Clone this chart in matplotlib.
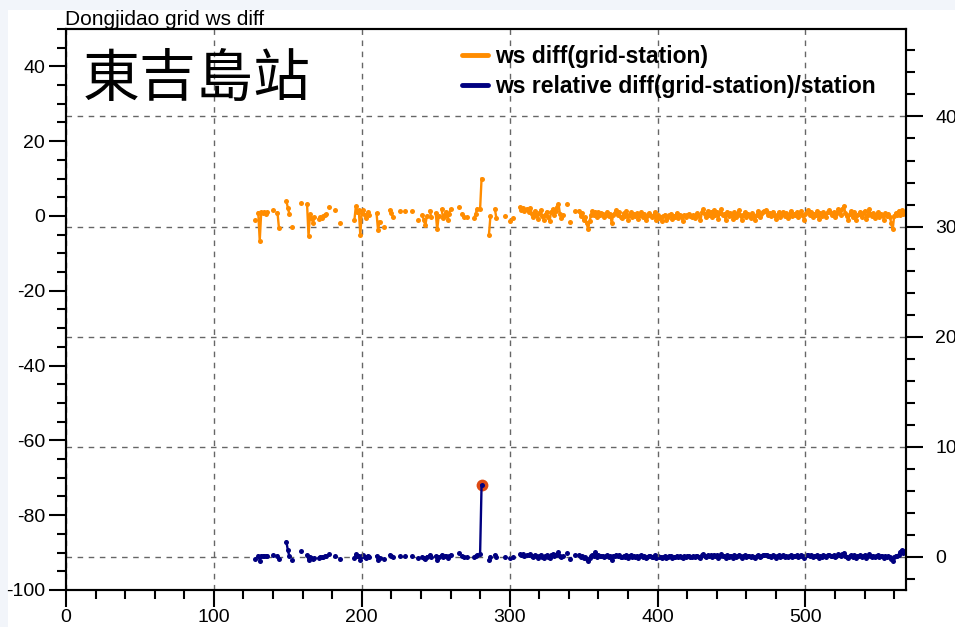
import numpy as np
import matplotlib
matplotlib.use('Agg')
import matplotlib.pyplot as plt
from matplotlib.lines import Line2D
from matplotlib.patches import Rectangle
from matplotlib.ticker import MultipleLocator

plt.rcParams['font.family'] = ['Liberation Sans', 'DejaVu Sans']
plt.rcParams['axes.unicode_minus'] = False

# hour index of the first record
start_hour = 128

# wind speed difference grid - station (m/s), None = missing hour
ws_diff = [
    -1.1, None, 0.9, -6.6, 1.0, 0.8, 1.1, 0.6, 1.0, None,          # 128
    None, None, 1.6, None, None, 0.9, -3.2, None, None, None,      # 138
    None, 4.0, 2.2, 0.6, None, -3.0, None, None, None, None,       # 148
    None, 3.4, None, None, None, 3.2, -5.4, 0.5, -0.6, -1.8,       # 158
    -0.4, None, None, -0.8, -0.3, -0.6, 0.0, 0.3, 0.5, None,       # 168
    2.4, None, None, None, 1.6, None, None, -1.8, None, None,      # 178
    None, None, None, None, None, None, None, -1.1, 2.6, 1.2,      # 188
    1.5, -5.0, 0.8, 1.6, 0.2, -0.5, 1.0, 0.4, None, None,          # 198
    None, None, 0.7, -3.8, -1.5, None, None, -3.0, None, None,     # 208
    None, 1.6, 0.8, -0.2, None, None, None, None, 1.3, None,       # 218
    None, 1.3, None, None, None, None, 1.3, None, None, None,      # 228
    -1.0, None, None, 0.3, -1.2, -2.4, 0.0, None, 1.4, -0.4,       # 238
    None, None, 0.8, -3.6, 0.0, None, 1.8, -0.6, 0.4, 1.2,         # 248
    -1.0, 0.6, 1.8, None, None, None, None, None, 2.5, None,       # 258
    0.6, -0.2, None, -0.2, None, None, None, None, -0.6, 0.6,      # 268
    1.9, None, 1.8, 10.0, None, None, None, None, -5.0, 0.0,       # 278
    None, None, 1.9, -0.6, None, None, None, None, None, 0.0,      # 288
    None, None, -1.4, None, -0.5, None, None, None, None, 2.4,     # 298
    1.7, 2.2, 1.3, None, 2.0,                                      # 308
    1.0, 2.2, 0.6, -0.2, 1.4, 0.2, -0.8, 0.8, 1.6, 0.0,            # 313
    -1.0, 0.4, 1.2, -0.4, -1.4, 1.0, 1.8, 0.2, 1.4, 2.4,           # 323
    3.3, 0.6, -0.6, 0.2, None, None, 3.2, None, -1.5, None,        # 333
    None, 1.4, None, None,                                         # 343
    1.4, 0.0, 0.8, -1.2, -0.2, -1.8, -3.6, -1.4, 0.2, 1.4,         # 347
    0.4, 1.2, -0.2, 1.0, 0.2, 0.8, 0.6, -0.2, 0.4, 1.2,            # 357
    0.0, 0.6, -2.0, 0.4, 0.8, 1.6, 0.2, 1.0, -0.2, -0.6,           # 367
    0.8, 0.0, 1.4, -1.0, 0.4, 1.0, -0.4, 0.6, 0.0, 0.8,            # 377
    -0.8, 0.2, 1.2, -0.2, 0.6, -1.0, 0.0, 0.8, 0.4, -0.4,          # 387
    0.0, 1.0, -1.2, 0.2, -0.6, -0.2, -1.4, 0.0, 0.4, -1.0,         # 397
    -0.2, 0.2, 0.6, -0.8, 0.0, -0.2, 0.8, -0.6, 0.4, 0.0,          # 407
    -1.4, 0.2, -0.2, 0.4, 0.6, 0.0, -0.4, 0.2, -0.6, 0.4,          # 417
    0.8, 0.0, -1.2, 1.0, 1.8, 0.6, -0.2, 1.4, 0.2, 1.2,            # 427
    -0.4, 1.6, 0.4, 1.0, -0.8, 0.8, 1.8, 0.2, 0.6, -1.0,           # 437
    1.2, 0.0, 0.8, 0.4, -0.8, 1.0, -0.2, 0.6, 1.6, 0.2,            # 447
    -1.0, 0.4, 1.0, -0.2, 0.6, 0.2, -0.6, 0.8, 0.0, -1.2,          # 457
    0.4, 1.4, -0.2, 0.6, 1.2, 1.4, 1.6, 1.0, 0.2, 0.8,             # 467
    0.0, 1.2, 0.4, -0.8, 0.2, 1.0, -0.2, 0.6, 1.2, 0.0,            # 477
    0.8, -0.6, 0.4, 1.4, 0.0, 0.6, 0.2, 1.0, -0.2, 0.8,            # 487
    1.4, 0.2, -1.0, 0.6, 1.0, 1.6, 0.4, 1.2, -0.2, 0.6,            # 497
    0.2, 1.4, -0.8, 0.8, 0.0, 1.0, 0.6, -0.2, 1.2, 1.6,            # 507
    0.8, 0.4, 1.0, -0.4, 0.6, 1.8, 1.2, 0.4, 2.0, 2.7,             # 517
    0.8, 0.0, -1.0, 0.6, 1.4, -0.2, 1.0, -1.2, 0.2, 0.6,           # 527
    1.2, -0.2, 0.8, 1.4, -0.8, 0.4, 1.8, 0.6, 0.0, 0.8,            # 537
    -0.6, 0.4, 1.0, -0.4, 0.6, 0.2, -1.0, 0.8, 0.0, 0.6,           # 547
    -0.2, -1.8, -3.6, 0.0, 0.8, 0.2, 1.4, 0.4, 1.6, 0.6,           # 557
    1.2,                                                           # 567
]

# relative difference (grid - station) / station
ws_rel = [
    -0.2, None, 0.1, -0.35, 0.1, 0.05, 0.1, 0.05, 0.1, None,       # 128
    None, None, 0.15, None, None, 0.1, -0.2, None, None, None,     # 138
    None, 1.35, 0.6, 0.05, None, -0.3, None, None, None, None,     # 148
    None, 0.55, None, None, None, 0.15, -0.3, 0.0, -0.1, -0.2,     # 158
    -0.1, None, None, -0.1, 0.0, -0.05, 0.0, 0.05, 0.05, None,     # 168
    0.2, None, None, None, 0.1, None, None, -0.25, None, None,     # 178
    None, None, None, None, None, None, None, -0.1, 0.2, 0.1,      # 188
    0.1, -0.3, 0.05, 0.15, 0.0, -0.1, 0.1, 0.0, None, None,        # 198
    None, None, 0.05, -0.3, -0.15, None, None, -0.25, None, None,  # 208
    None, 0.15, 0.05, -0.05, None, None, None, None, 0.1, None,    # 218
    None, 0.1, None, None, None, None, 0.1, None, None, None,      # 228
    -0.1, None, None, 0.0, -0.1, -0.25, 0.0, None, 0.15, -0.05,    # 238
    None, None, 0.05, -0.3, 0.0, None, 0.15, -0.05, 0.05, 0.1,     # 248
    -0.1, 0.05, 0.15, None, None, None, None, None, 0.3, None,     # 258
    0.05, -0.05, None, 0.0, None, None, None, None, -0.05, 0.05,   # 268
    0.15, None, 0.2, 6.5, None, None, None, None, -0.3, 0.0,       # 278
    None, None, 0.15, -0.05, None, None, None, None, None, 0.0,    # 288
    None, None, -0.1, None, -0.05, None, None, None, None, 0.2,    # 298
    0.15, 0.2, 0.1, None, 0.15,                                    # 308
    0.12, 0.25, 0.06, -0.03, 0.16, 0.02, -0.1, 0.09, 0.18, 0.0,    # 313
    -0.12, 0.05, 0.14, -0.05, -0.16, 0.12, 0.2, 0.02, 0.16, 0.28,  # 323
    0.38, 0.07, -0.07, 0.02, None, None, 0.36, None, -0.17, None,  # 333
    None, 0.16, None, None,                                        # 343
    0.16, 0.0, 0.09, -0.14, -0.02, -0.2, -0.4, -0.16, 0.02, 0.16,  # 347
    0.05, 0.4, -0.02, 0.12, 0.02, 0.09, 0.07, -0.02, 0.05, 0.14,   # 357
    0.0, 0.07, -0.3, 0.05, 0.09, 0.18, 0.02, 0.12, -0.02, -0.07,   # 367
    0.09, 0.0, 0.16, -0.12, 0.05, 0.12, -0.05, 0.07, 0.0, 0.09,    # 377
    -0.09, 0.02, 0.14, -0.02, 0.07, -0.12, 0.0, 0.09, 0.05, -0.05, # 387
    0.0, 0.12, -0.14, 0.02, -0.07, -0.02, -0.16, 0.0, 0.05, -0.12, # 397
    -0.02, 0.02, 0.07, -0.09, 0.0, -0.02, 0.09, -0.07, 0.05, 0.0,  # 407
    -0.16, 0.02, -0.02, 0.05, 0.07, 0.0, -0.05, 0.02, -0.07, 0.05, # 417
    0.09, 0.0, -0.14, 0.12, 0.2, 0.07, -0.02, 0.16, 0.02, 0.14,    # 427
    -0.05, 0.18, 0.05, 0.12, -0.09, 0.09, 0.2, 0.02, 0.07, -0.12,  # 437
    0.14, 0.0, 0.09, 0.05, -0.09, 0.12, -0.02, 0.07, 0.18, 0.02,   # 447
    -0.12, 0.05, 0.12, -0.02, 0.07, 0.02, -0.07, 0.09, 0.0, -0.14, # 457
    0.05, 0.16, -0.02, 0.07, 0.14, 0.16, 0.18, 0.12, 0.02, 0.09,   # 467
    0.0, 0.14, 0.05, -0.09, 0.02, 0.12, -0.02, 0.07, 0.14, 0.0,    # 477
    0.09, -0.07, 0.05, 0.16, 0.0, 0.07, 0.02, 0.12, -0.02, 0.09,   # 487
    0.16, 0.02, -0.12, 0.07, 0.12, 0.18, 0.05, 0.14, -0.02, 0.07,  # 497
    0.02, 0.16, -0.09, 0.09, 0.0, 0.12, 0.07, -0.02, 0.14, 0.18,   # 507
    0.09, 0.05, 0.12, -0.05, 0.07, 0.2, 0.14, 0.05, 0.22, 0.35,    # 517
    0.09, 0.0, -0.12, 0.07, 0.16, -0.02, 0.12, -0.14, 0.02, 0.07,  # 527
    0.14, -0.02, 0.09, 0.16, -0.09, 0.05, 0.2, 0.07, 0.0, 0.09,    # 537
    -0.07, 0.05, 0.12, -0.05, 0.07, 0.02, -0.12, 0.09, 0.0, 0.07,  # 547
    -0.02, -0.2, -0.4, 0.0, 0.09, 0.02, 0.16, 0.45, 0.6, 0.3,      # 557
    0.5,                                                           # 567
]

diff = np.array(ws_diff, dtype=float)
rel = np.array(ws_rel, dtype=float)
hours = np.arange(start_hour, start_hour + len(diff))
assert len(diff) == len(rel)

c_diff = '#ff8c00'
c_rel = '#000080'

W, H = 955, 627
fig = plt.figure(figsize=(W / 100, H / 100), dpi=100)
fig.patch.set_facecolor('#f2f5fa')
fig.add_artist(Rectangle((8 / W, 0), 1, 1 - 10 / H, transform=fig.transFigure,
                         facecolor='white', edgecolor='none', zorder=-10))

ax = fig.add_axes([66 / W, 1 - 590 / H, (906 - 66) / W, (590 - 29) / H])
ax2 = ax.twinx()
# left axis (diff) drawn above the right one
ax.set_zorder(ax2.get_zorder() + 1)
ax.patch.set_visible(False)
ax2.patch.set_visible(True)
ax2.patch.set_facecolor('white')

ax.plot(hours, diff, color=c_diff, lw=1.7, marker='o', ms=3.6, mec='none')
ax2.plot(hours, rel, color=c_rel, lw=1.7, marker='o', ms=3.6, mec='none', zorder=3)

# mark the largest relative difference
imax = np.nanargmax(rel)
ax2.plot(hours[imax], rel[imax], 'o', color='#dd4a14', ms=8.5, mec='none', zorder=2)

ax.set_xlim(0, 568)
ax.set_ylim(-100, 50)
ax2.set_ylim(-3.03, 47.95)

ax.xaxis.set_major_locator(MultipleLocator(100))
ax.xaxis.set_minor_locator(MultipleLocator(20))
ax.yaxis.set_major_locator(MultipleLocator(20))
ax.yaxis.set_minor_locator(MultipleLocator(5))
ax2.yaxis.set_major_locator(MultipleLocator(10))
ax2.yaxis.set_minor_locator(MultipleLocator(2))

for a in (ax, ax2):
    a.tick_params(which='major', direction='out', length=12, width=1.5,
                  labelsize=14, color='black')
    a.tick_params(which='minor', direction='out', length=6.5, width=1.5)
    for s in a.spines.values():
        s.set_linewidth(1.5)
ax.tick_params(axis='x', pad=2)
ax.tick_params(axis='y', pad=3)
ax2.tick_params(axis='y', pad=9)

grid_kw = dict(color='0.4', lw=1, ls=(0, (4, 4)))
ax.grid(axis='x', which='major', **grid_kw)
ax2.grid(axis='y', which='major', **grid_kw)

handles = [Line2D([], [], color=c_diff, lw=3.5, solid_capstyle='round'),
           Line2D([], [], color=c_rel, lw=3.5, solid_capstyle='round')]
labels = ['ws diff(grid-station)', 'ws relative diff(grid-station)/station']
ax.legend(handles, labels, loc='upper left', bbox_to_anchor=(462 / W, 1 - 45 / H),
          bbox_transform=fig.transFigure, frameon=False,
          prop={'weight': 'bold', 'size': 16.5}, handlelength=1.15,
          handletextpad=0.28, borderpad=0, borderaxespad=0, labelspacing=0.3)

fig.text(65 / W, 1 - 25 / H, 'Dongjidao grid ws diff', fontsize=15,
         ha='left', va='baseline')
fig.text(197 / W, 1 - 80 / H, '東吉島站', fontsize=41, ha='center', va='center',
         family=['Noto Sans CJK TC', 'DejaVu Sans'])

fig.savefig('out.png', dpi=100, facecolor=fig.get_facecolor())
